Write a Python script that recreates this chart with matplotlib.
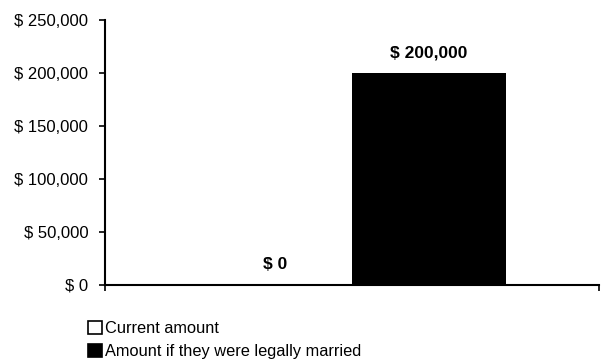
import matplotlib
matplotlib.use('Agg')
import matplotlib.pyplot as plt
from matplotlib.patches import Patch

# Values for the single category, one bar per series
series_names = ['Current amount', 'Amount if they were legally married']
series_values = [0, 200000]
series_colors = ['white', 'black']
bar_labels = ['$ 0', '$ 200,000']
y_ticks = [0, 50000, 100000, 150000, 200000, 250000]
y_tick_labels = ['$ 0', '$ 50,000', '$ 100,000', '$ 150,000', '$ 200,000', '$ 250,000']

plt.rcParams['font.family'] = ['Liberation Sans', 'DejaVu Sans']

W, H = 603, 364
fig = plt.figure(figsize=(W / 100, H / 100), dpi=100)
ax = fig.add_axes([105 / W, (H - 285) / H, 494 / W, 265 / H])

bar_w = 154 / 494
offsets = [-bar_w / 2, bar_w / 2]
for off, val, col, lab in zip(offsets, series_values, series_colors, bar_labels):
    ax.bar(off, val, width=bar_w, color=col, edgecolor='none')
    ax.text(off, val + 12000, lab, ha='center', va='bottom',
            fontsize=12.5, fontweight='bold')

ax.set_xlim(-0.5, 0.5)
ax.set_ylim(0, 250000)
ax.set_yticks(y_ticks)
ax.set_yticklabels(y_tick_labels, fontsize=12)
ax.set_xticks([-0.5, 0.5])
ax.set_xticklabels([])
ax.tick_params(axis='both', direction='out', length=4, width=1.2, color='black', pad=8)

for side in ['top', 'right']:
    ax.spines[side].set_visible(False)
for side in ['left', 'bottom']:
    ax.spines[side].set_linewidth(1.5)
    ax.spines[side].set_color('black')

handles = [Patch(facecolor=c, edgecolor='black', linewidth=1.2) for c in series_colors]
fig.legend(handles, series_names, loc='upper left',
           bbox_to_anchor=(88 / W, 1 - 321 / H), frameon=False, fontsize=11.8,
           handlelength=0.85, handleheight=0.85, handletextpad=0.2, labelspacing=0.45,
           borderaxespad=0, borderpad=0)

fig.savefig('out.png', dpi=100)
